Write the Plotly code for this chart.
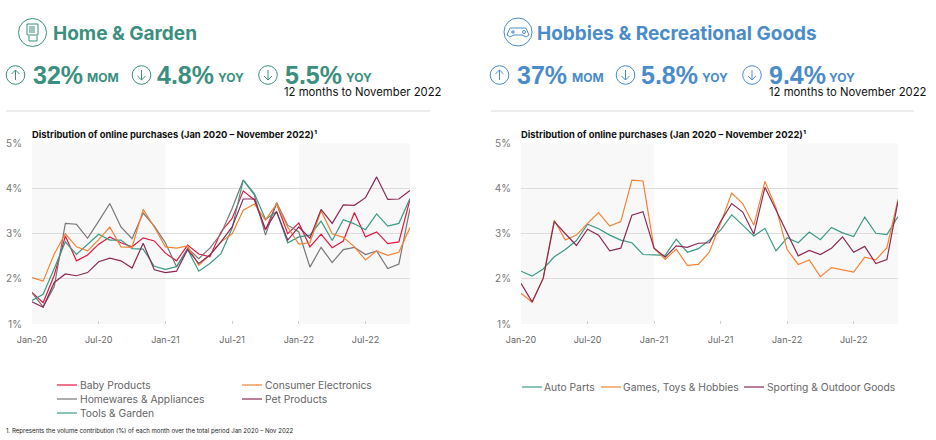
import plotly.graph_objects as go

W, H = 936, 440

months = ["Jan-20","Feb-20","Mar-20","Apr-20","May-20","Jun-20","Jul-20","Aug-20","Sep-20","Oct-20","Nov-20","Dec-20",
          "Jan-21","Feb-21","Mar-21","Apr-21","May-21","Jun-21","Jul-21","Aug-21","Sep-21","Oct-21","Nov-21","Dec-21",
          "Jan-22","Feb-22","Mar-22","Apr-22","May-22","Jun-22","Jul-22","Aug-22","Sep-22","Oct-22","Nov-22"]
tick_months = ["Jan-20","Jul-20","Jan-21","Jul-21","Jan-22","Jul-22"]
y_ticks = [1, 2, 3, 4, 5]
y_labels = ["1%", "2%", "3%", "4%", "5%"]

baby = [1.70,1.47,2.08,2.95,2.40,2.53,2.77,2.93,2.80,2.71,2.91,2.84,2.57,2.40,2.75,2.55,2.49,3.04,3.34,3.95,3.75,3.08,3.67,3.00,3.24,2.71,2.99,2.69,2.84,3.47,2.93,3.04,2.78,2.82,3.76]
consumer = [2.03,1.95,2.55,3.00,2.71,2.62,2.87,3.15,2.71,2.70,3.54,3.15,2.71,2.68,2.73,2.30,2.53,2.82,3.00,3.52,3.66,3.30,3.66,3.15,2.77,2.80,3.51,3.00,2.92,2.71,2.42,2.62,2.52,2.59,3.14]
homewares = [1.69,1.38,1.83,3.23,3.21,2.90,3.28,3.67,3.15,2.89,3.46,3.17,2.80,2.27,2.68,2.45,2.68,3.00,3.56,4.19,3.86,2.97,3.69,3.19,3.04,2.26,2.70,2.36,2.65,2.70,2.54,2.62,2.23,2.33,3.56]
pet = [1.49,1.37,1.92,2.11,2.07,2.14,2.38,2.46,2.40,2.24,2.79,2.20,2.14,2.17,2.65,2.34,2.53,2.82,3.15,3.77,3.77,3.10,3.49,2.86,3.15,2.90,3.54,3.23,3.64,3.63,3.80,4.26,3.76,3.77,3.96]
tools = [1.52,1.66,2.23,2.82,2.54,2.77,2.99,2.86,2.86,2.67,2.66,2.28,2.21,2.27,2.65,2.17,2.34,2.56,3.12,4.19,3.89,3.32,3.49,2.80,2.93,2.97,3.28,2.85,3.31,3.22,3.09,3.44,3.17,3.23,3.78]

auto_parts = [2.17,2.06,2.22,2.49,2.65,2.85,3.21,3.11,2.97,2.86,2.80,2.54,2.53,2.52,2.88,2.59,2.67,2.86,3.08,3.42,3.19,2.95,3.12,2.62,2.91,2.80,3.04,2.87,3.14,3.02,2.94,3.37,3.01,2.98,3.38]
games = [1.68,1.48,2.01,3.30,2.86,2.97,3.23,3.47,3.17,3.27,4.19,4.17,2.68,2.43,2.66,2.30,2.32,2.60,3.23,3.90,3.67,3.19,4.16,3.58,2.65,2.32,2.42,2.05,2.25,2.20,2.15,2.48,2.42,2.69,3.76]
sporting = [1.90,1.49,2.01,3.27,3.00,2.74,3.10,2.97,2.62,2.68,3.41,3.49,2.68,2.48,2.73,2.70,2.79,2.80,3.27,3.67,3.48,2.99,4.03,3.52,3.01,2.51,2.63,2.54,2.68,2.93,2.59,2.72,2.34,2.43,3.72]

RED, ORANGE, GREY, MAROON, TEAL = "#E5173F", "#F58233", "#77777A", "#8C2A56", "#3B9A86"
GREEN_H, BLUE_H = "#3A8F7E", "#4A8CC9"
FONT = "Inter"
FONT_KPI = "Liberation Sans"

px = lambda x: x / W
py = lambda y: 1 - y / H

fig = go.Figure()
shapes, ann = [], []

def text(x, y, s, size, color, bold=False, anchor="left", family=FONT):
    ann.append(dict(x=px(x), y=py(y), xref="paper", yref="paper", text=f"<b>{s}</b>" if bold else s, showarrow=False,
                    xanchor=anchor, yanchor="middle", xshift=-1, borderpad=0, font=dict(size=size, color=color, family=family)))

def circle(cx, cy, r, color, w=1):
    shapes.append(dict(type="circle", xref="paper", yref="paper", x0=px(cx-r), x1=px(cx+r), y0=py(cy+r), y1=py(cy-r),
                       line=dict(color=color, width=w)))

def poly(pts, color, w=1):
    p = "M " + " L ".join(f"{px(a):.5f},{py(b):.5f}" for a, b in pts)
    shapes.append(dict(type="path", xref="paper", yref="paper", path=p, line=dict(color=color, width=w)))

def key(x, y, name, color, tx):
    poly([(x, y), (x + 20, y)], color, 1.2)
    text(tx, y, name.replace("&", "&amp;"), 10.3, "#666666")

left = [("Baby Products", baby, RED, 57, 385),
        ("Homewares & Appliances", homewares, GREY, 57, 399),
        ("Tools & Garden", tools, TEAL, 57, 413),
        ("Consumer Electronics", consumer, ORANGE, 242, 385),
        ("Pet Products", pet, MAROON, 242, 399)]
for name, vals, col, kx, ky in left:
    fig.add_trace(go.Scatter(x=months, y=vals, name=name, mode="lines", line=dict(color=col, width=1.2), xaxis="x", yaxis="y"))
    key(kx, ky, name, col, kx + 23)
right = [("Auto Parts", auto_parts, TEAL, 522, 544), ("Games, Toys & Hobbies", games, ORANGE, 601, 623),
         ("Sporting & Outdoor Goods", sporting, MAROON, 744, 767)]
for name, vals, col, kx, tx in right:
    fig.add_trace(go.Scatter(x=months, y=vals, name=name, mode="lines", line=dict(color=col, width=1.2), xaxis="x2", yaxis="y2"))
    key(kx, 387, name, col, tx)

def arrow(cx, cy, color, up):
    s = -1 if up else 1
    circle(cx, cy, 9.3, color)
    poly([(cx, cy - s*5), (cx, cy + s*5)], color)
    poly([(cx-4, cy + s*1), (cx, cy + s*5), (cx+4, cy + s*1)], color)

def header(color, title, tx, ty, kpis, rule):
    text(tx, ty, title, 19, color, True)
    for ax, up, val, vx, unit, ux in kpis:
        arrow(ax, 75, color, up)
        text(vx, 75, val, 25, color, True, family=FONT_KPI)
        text(ux, 78, unit, 12, color, True)
    shapes.append(dict(type="line", xref="paper", yref="paper", x0=px(rule[0]), x1=px(rule[1]), y0=py(111), y1=py(111),
                       line=dict(color="#D9D9D9", width=1)))

header(GREEN_H, "Home &amp; Garden", 53, 33.5,
       [(15.5, True, "32%", 33, "MOM", 87), (141.5, False, "4.8%", 157, "YOY", 218), (268, False, "5.5%", 285, "YOY", 346)], (6, 430))
header(BLUE_H, "Hobbies &amp; Recreational Goods", 537, 33.5,
       [(499.5, True, "37%", 517, "MOM", 572), (625.5, False, "5.8%", 641, "YOY", 702), (752, False, "9.4%", 769, "YOY", 829)], (491, 914))

text(284, 92, "12 months to November 2022", 11.3, "#111111")
text(769, 92, "12 months to November 2022", 11.3, "#111111")
text(32, 134, "Distribution of online purchases (Jan 2020 – November 2022)¹", 9.4, "#111111", True)
text(521, 134, "Distribution of online purchases (Jan 2020 – November 2022)¹", 9.4, "#111111", True)
text(6, 431, "1. Represents the volume contribution (%) of each month over the total period Jan 2020 – Nov 2022", 6.1, "#222222")

# icons
circle(32.5, 32.5, 14, GREEN_H)
poly([(27, 24), (38, 24), (38, 35), (27, 35), (27, 24)], GREEN_H)
poly([(29, 36), (29, 41), (37, 41), (37, 36)], GREEN_H)
for dx in (30, 32, 34):
    poly([(dx, 26), (dx, 33)], GREEN_H)
circle(518, 32, 14, BLUE_H)
poly([(510, 28), (526, 28), (529, 35), (526, 37), (522, 35), (514, 35), (510, 37), (507, 35), (510, 28)], BLUE_H)
poly([(511, 32), (515, 32)], BLUE_H)
poly([(513, 30), (513, 34)], BLUE_H)
circle(524, 32, 1.5, BLUE_H)

for xr in ("x", "x2"):
    for a, b in (("Jan-20", "Jan-21"), ("Jan-22", "Nov-22")):
        shapes.append(dict(type="rect", xref=xr, yref=("y domain" if xr == "x" else "y2 domain"), x0=a, x1=b, y0=0, y1=1,
                           fillcolor="#F8F8F8", line=dict(width=0), layer="below"))

xax = dict(type="category", categoryorder="array", categoryarray=months, range=[0, 34], tickmode="array", tickvals=tick_months,
           ticktext=tick_months, showgrid=False, zeroline=False, showline=False, ticks="inside", ticklen=3, tickcolor="#D0D0D0",
           tickfont=dict(size=9, color="#666666", family=FONT), ticklabelstandoff=9)
yax = dict(range=[1, 5], tickmode="array", tickvals=y_ticks, ticktext=y_labels, showgrid=True, gridcolor="#DCDCDC", gridwidth=1,
           zeroline=False, showline=False, tickfont=dict(size=10, color="#777777", family=FONT), ticks="", ticklabelstandoff=9,
           domain=[py(324), py(143.5)])

fig.update_layout(
    width=W, height=H, margin=dict(l=0, r=0, t=0, b=0, autoexpand=False), paper_bgcolor="white", plot_bgcolor="white",
    xaxis=dict(xax, domain=[px(32), px(410)], anchor="y", automargin=False),
    yaxis=dict(yax, anchor="x", automargin=False),
    xaxis2=dict(xax, domain=[px(521), px(898)], anchor="y2", automargin=False),
    yaxis2=dict(yax, anchor="x2", automargin=False),
    shapes=shapes, annotations=ann, showlegend=False,
)
fig.write_html("out.html", post_script="document.body.style.margin='0';", config=dict(displayModeBar=False))
